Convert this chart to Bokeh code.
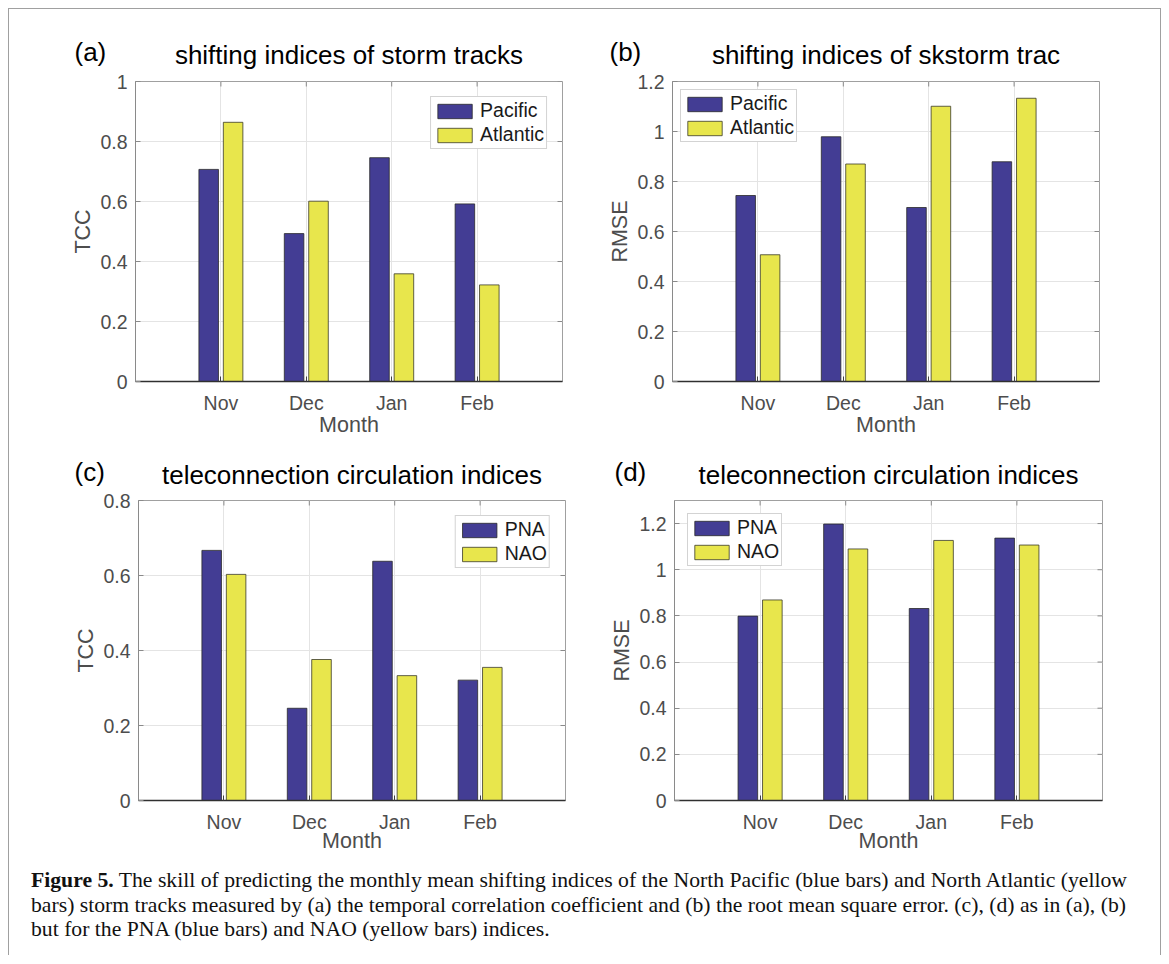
import math
from bokeh.plotting import figure
from bokeh.models import (Range1d, FixedTicker, Legend, LegendItem, Div, Spacer,
                          CustomJSTickFormatter)
from bokeh.layouts import column, row
from bokeh.core.properties import value
from bokeh.embed import file_html
from bokeh.resources import INLINE

# ---------------- data ----------------
months = ["Nov", "Dec", "Jan", "Feb"]
month_pos = [1, 2, 3, 4]

pacific_tcc = [0.707, 0.493, 0.746, 0.592]
atlantic_tcc = [0.864, 0.601, 0.359, 0.322]
pacific_rmse = [0.744, 0.979, 0.696, 0.879]
atlantic_rmse = [0.507, 0.870, 1.101, 1.133]
pna_tcc = [0.667, 0.246, 0.638, 0.321]
nao_tcc = [0.603, 0.376, 0.333, 0.355]
pna_rmse = [0.799, 1.198, 0.832, 1.137]
nao_rmse = [0.869, 1.090, 1.127, 1.107]

yticks_a = [0, 0.2, 0.4, 0.6, 0.8, 1.0]
yticks_b = [0, 0.2, 0.4, 0.6, 0.8, 1.0, 1.2]
yticks_c = [0, 0.2, 0.4, 0.6, 0.8]
yticks_d = [0, 0.2, 0.4, 0.6, 0.8, 1.0, 1.2]

titles = ["shifting indices of storm tracks", "shifting indices of skstorm trac",
          "teleconnection circulation indices", "teleconnection circulation indices"]
tags = ["(a)", "(b)", "(c)", "(d)"]

caption_bold = "Figure 5."
caption_lines = [
    " The skill of predicting the monthly mean shifting indices of the North Pacific (blue bars) and North Atlantic (yellow",
    "bars) storm tracks measured by (a) the temporal correlation coefficient and (b) the root mean square error. (c), (d) as in (a), (b)",
    "but for the PNA (blue bars) and NAO (yellow bars) indices.",
]

# ---------------- style ----------------
FONT = "Liberation Sans"
BLUE = "#433d94"
YELLOW = "#e8e64c"
TICKC = "#4d4d4d"
BOXC = "#a0a0a0"
OFFSET = 0.143
BARW = 0.229
XMAX = 5
BASE_SHIFT = 9  # text glyph baseline correction (px)


def panel(width, height, bl, br, bt, bb, ymax, yticks, ylabel, v1, v2, names, loc,
          lmargin, lab_standoff):
    p = figure(width=width, height=height, output_backend="svg", toolbar_location=None,
               x_range=Range1d(0, XMAX), y_range=Range1d(0, ymax), min_border=0,
               min_border_left=bl, min_border_right=br, min_border_top=bt,
               min_border_bottom=bb, x_axis_label="Month", y_axis_label=ylabel)
    p.outline_line_color = BOXC
    p.outline_line_width = 1
    p.background_fill_color = "white"
    p.border_fill_color = "white"

    # grid
    p.xgrid.ticker = FixedTicker(ticks=month_pos)
    p.ygrid.ticker = FixedTicker(ticks=yticks)
    p.xgrid.grid_line_color = "#e4e4e4"
    p.ygrid.grid_line_color = "#e4e4e4"

    # inward box ticks on the top and right edges
    p.ray(x=[XMAX] * len(yticks), y=yticks, length=5, angle=math.pi,
          length_units="screen", line_color="#8a8a8a", line_width=1)
    p.ray(x=month_pos, y=[ymax] * len(month_pos), length=5, angle=-math.pi / 2,
          length_units="screen", line_color="#8a8a8a", line_width=1)

    # bars
    r1 = p.vbar(x=[m - OFFSET for m in month_pos], top=v1, width=BARW, bottom=0,
                fill_color=BLUE, line_color="#2a2a2a", line_width=0.8)
    r2 = p.vbar(x=[m + OFFSET for m in month_pos], top=v2, width=BARW, bottom=0,
                fill_color=YELLOW, line_color="#3a3a2a", line_width=0.8)

    # axes
    xa = p.xaxis[0]
    xa.ticker = FixedTicker(ticks=month_pos)
    xa.major_label_overrides = {m: lab for m, lab in zip(month_pos, months)}
    ya = p.yaxis[0]
    ya.ticker = FixedTicker(ticks=yticks)
    ya.formatter = CustomJSTickFormatter(code="return String(Math.round(tick*10)/10);")
    for ax in (xa, ya):
        ax.major_tick_in = 5
        ax.major_tick_out = 0
        ax.minor_tick_line_color = None
        ax.major_label_text_font = FONT
        ax.major_label_text_font_size = "19.5px"
        ax.major_label_text_color = TICKC
        ax.axis_label_text_font = FONT
        ax.axis_label_text_font_size = "21.5px"
        ax.axis_label_text_font_style = "normal"
        ax.axis_label_text_color = TICKC
    xa.axis_line_color = "#303030"
    xa.axis_line_width = 1.4
    xa.major_tick_line_color = "#404040"
    xa.major_label_standoff = 10
    xa.axis_label_standoff = lab_standoff
    ya.axis_line_color = "#8a8a8a"
    ya.major_tick_line_color = "#8a8a8a"
    ya.major_label_standoff = 8
    ya.axis_label_standoff = 2

    # legend
    legend = Legend(items=[LegendItem(label=names[0], renderers=[r1]),
                           LegendItem(label=names[1], renderers=[r2])],
                    location=loc, margin=lmargin, padding=2, spacing=1,
                    glyph_width=43, glyph_height=18, label_standoff=4,
                    label_text_font=FONT, label_text_font_size="19.5px",
                    label_text_color="#1a1a1a", border_line_color="#a8a8a8",
                    border_line_width=1, background_fill_alpha=1)
    p.add_layout(legend)
    return p


def header(width, height, tag_x, tag_base, title_x, title_base, tag_list, title_list):
    # *_base: baseline distance (px) above the strip's bottom edge
    h = figure(width=width, height=height, output_backend="svg", toolbar_location=None,
               x_range=Range1d(0, width), y_range=Range1d(0, height), min_border=0,
               x_axis_type=None, y_axis_type=None)
    h.grid.visible = False
    h.outline_line_color = None
    h.background_fill_color = "white"
    h.border_fill_color = "white"
    h.text(x=tag_x, y=[b + BASE_SHIFT for b in tag_base], text=tag_list,
           text_font=value(FONT), text_font_size="26px", text_color="black",
           text_align="left", text_baseline="alphabetic")
    h.text(x=title_x, y=[b + BASE_SHIFT for b in title_base], text=title_list,
           text_font=value(FONT), text_font_size="26px", text_color="black",
           text_align="center", text_baseline="alphabetic")
    return h


INNER_W = 1151

# row 1: header strip 9..70, plots 70..442 (frame 81..381)
head1 = header(INNER_W, 61, [65, 600], [10, 10], [339.5, 876.5], [7, 7], tags[:2], titles[:2])
pa = panel(576, 372, 126, 23, 11, 61, 1.0, yticks_a, "TCC", pacific_tcc, atlantic_tcc,
           ["Pacific", "Atlantic"], "top_right", 15, -4)
pb = panel(575, 372, 87, 61, 11, 61, 1.2, yticks_b, "RMSE", pacific_rmse, atlantic_rmse,
           ["Pacific", "Atlantic"], "top_left", 8, -4)
# row 2: header strip 442..489, plots 489..864 (frame 500..800)
head2 = header(INNER_W, 47, [65, 605], [8.5, 8.5], [342.5, 879], [5.5, 5.5], tags[2:], titles[2:])
pc = panel(576, 375, 129, 20, 11, 64, 0.8, yticks_c, "TCC", pna_tcc, nao_tcc,
           ["PNA", "NAO"], "top_right", 15, -7)
pd = panel(575, 375, 89, 58, 11, 64, 1.3, yticks_d, "RMSE", pna_rmse, nao_rmse,
           ["PNA", "NAO"], "top_left", 13, -7)

cap_html = ('<div style="font-family:\'Liberation Serif\',serif;font-size:21.7px;'
            'line-height:24.5px;padding:4px 0 0 22px;margin:0;color:#111;white-space:nowrap;">'
            '<b>' + caption_bold + '</b>' + caption_lines[0] + '<br>'
            + caption_lines[1] + '<br>' + caption_lines[2] + '</div>')
caption = Div(text=cap_html, width=INNER_W, height=91, margin=0)

hline = Spacer(width=INNER_W, height=1, margin=0, styles={"background-color": BOXC})
inner = column(hline, head1, row(pa, pb), head2, row(pc, pd), caption)
vl = Spacer(width=1, height=947, margin=0, styles={"background-color": BOXC})
vr = Spacer(width=1, height=947, margin=0, styles={"background-color": BOXC})
layout = column(Spacer(width=1161, height=8, margin=0),
                row(Spacer(width=8, height=947, margin=0), vl, inner, vr))

open("out.html", "w").write(file_html(layout, INLINE))
